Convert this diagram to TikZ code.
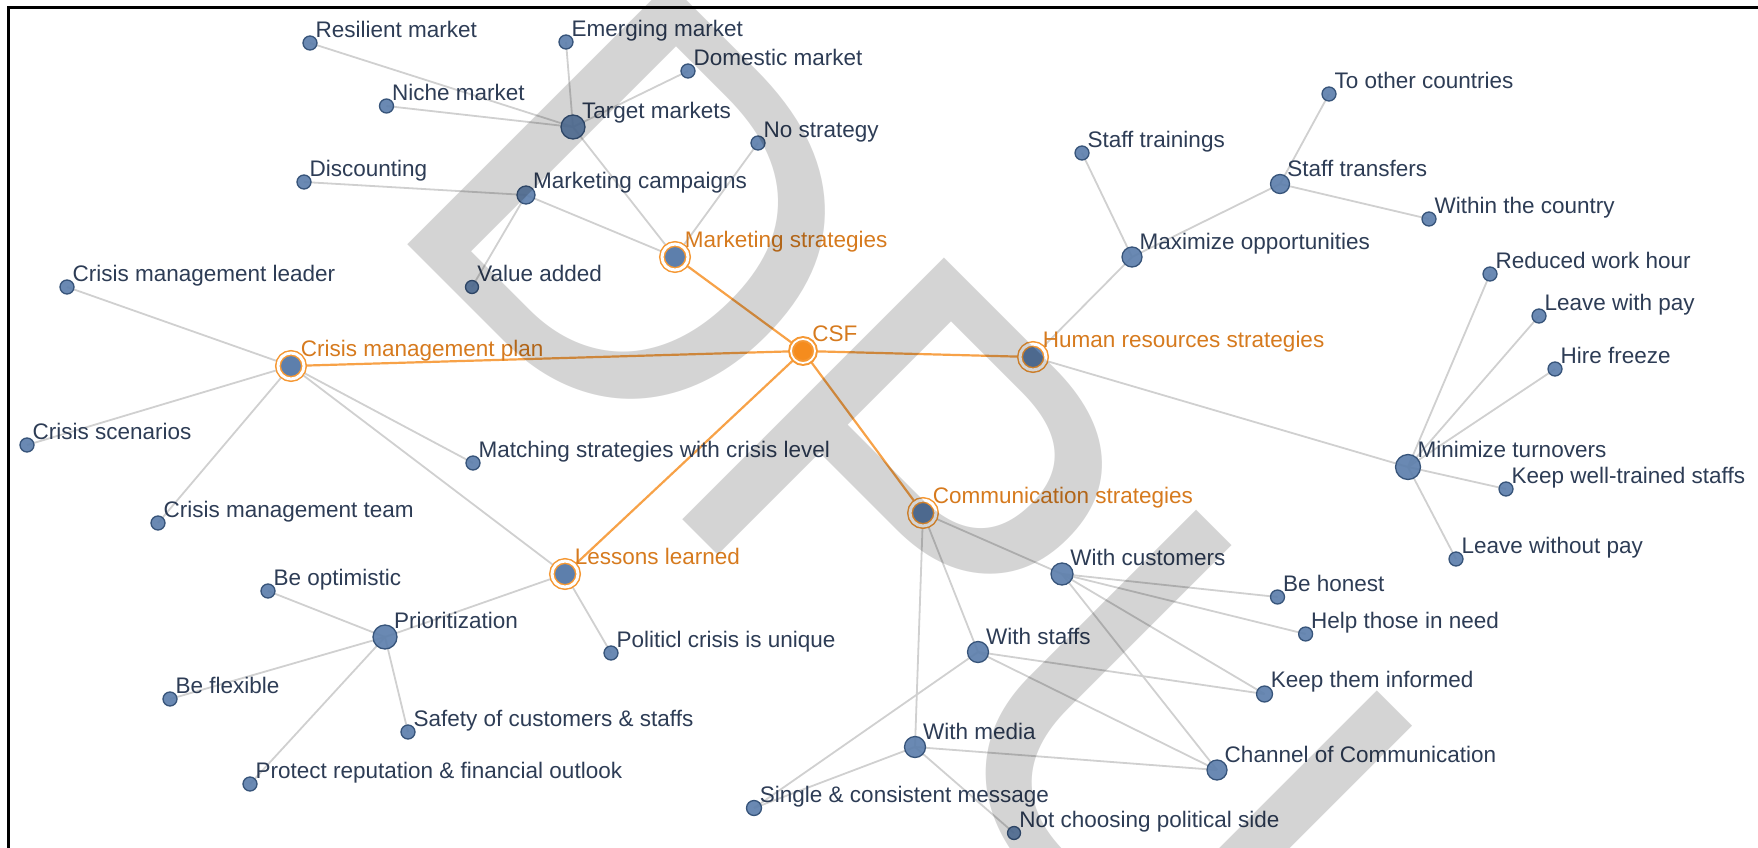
\documentclass[tikz,border=0pt]{standalone}
\usepackage{fontspec}
\setmainfont{Liberation Sans}
\usetikzlibrary{backgrounds}
\definecolor{nodeblue}{RGB}{93,127,172}
\definecolor{nodeedge}{RGB}{55,84,122}
\definecolor{ringorange}{RGB}{245,152,52}
\definecolor{csforange}{RGB}{245,140,30}
\definecolor{edgegrey}{RGB}{208,208,208}
\definecolor{orangeedge}{RGB}{247,162,72}
\definecolor{labelblue}{RGB}{45,60,85}
\definecolor{labelorange}{RGB}{214,122,30}
\newcommand{\lblfont}{\fontsize{22.5}{27}\selectfont}

\begin{document}
\begin{tikzpicture}[x=1pt, y=-1pt,
  leaf/.style={circle, inner sep=0pt, minimum size=#1, fill=nodeblue, fill opacity=0.92,
    draw=nodeedge, line width=1.3pt, label distance=2.5pt},
  leaf/.default=14pt,
  strat/.style={circle, inner sep=0pt, minimum size=26pt, fill=nodeblue, draw=ringorange,
    double=white, double distance=3pt, line width=1.5pt, label distance=2pt},
  csfnode/.style={circle, inner sep=0pt, minimum size=24pt, fill=csforange, draw=ringorange,
    double=white, double distance=1.8pt, line width=2pt, label distance=2pt},
  lbl/.style={anchor=base west, inner sep=0pt, opacity=1, text opacity=1, text=labelblue, font=\lblfont},
  olbl/.style={lbl, text=labelorange},
  edge/.style={draw=edgegrey, line width=1.8pt},
  oedge/.style={draw=orangeedge, line width=2.2pt}]
\useasboundingbox (0,0) rectangle (1758,848);
\draw[line width=2.4pt] (8.5,848) -- (8.5,7.5) -- (1758,7.5);

\node[csfnode, label={[olbl]45:CSF}] (csf) at (803,351) {};
\node[strat, label={[olbl]45:Marketing strategies}] (ms) at (675,257) {};
\node[strat, label={[olbl]45:Crisis management plan}] (cmp) at (291,366) {};
\node[strat, label={[olbl]45:Human resources strategies}] (hr) at (1033,357) {};
\node[strat, label={[olbl]45:Communication strategies}] (cs) at (923,513) {};
\node[strat, label={[olbl]45:Lessons learned}] (ll) at (565,574) {};

\node[leaf=24pt, label={[lbl]45:Target markets}] (tm) at (573,127) {};
\node[leaf, label={[lbl]45:Resilient market}] (rm) at (310,43) {};
\node[leaf, label={[lbl]45:Emerging market}] (em) at (566,42) {};
\node[leaf, label={[lbl]45:Domestic market}] (dm) at (688,71) {};
\node[leaf, label={[lbl]45:Niche market}] (nm) at (386.5,106) {};
\node[leaf, label={[lbl]45:No strategy}] (ns) at (758,143) {};
\node[leaf=18pt, label={[lbl]45:Marketing campaigns}] (mc) at (526,195) {};
\node[leaf, label={[lbl]45:Discounting}] (dc) at (304,182) {};
\node[leaf=13pt, label={[lbl]45:Value added}] (va) at (472,287) {};

\node[leaf, label={[lbl]45:Crisis management leader}] (cml) at (67,287) {};
\node[leaf, label={[lbl]45:Crisis scenarios}] (csc) at (27,445) {};
\node[leaf, label={[lbl]45:Crisis management team}] (cmt) at (158,523) {};
\node[leaf, label={[lbl]45:Matching strategies with crisis level}] (msc) at (473,463) {};

\node[leaf=24pt, label={[lbl]45:Prioritization}] (pr) at (385,637) {};
\node[leaf, label={[lbl]45:Be optimistic}] (bo) at (268,591) {};
\node[leaf, label={[lbl]45:Be flexible}] (bf) at (170,699) {};
\node[leaf, label={[lbl]45:Safety of customers \& staffs}] (sf) at (408,732) {};
\node[leaf, label={[lbl]45:Protect reputation \& financial outlook}] (prf) at (250,784) {};
\node[leaf, label={[lbl]45:Politicl crisis is unique}] (pc) at (611,653) {};

\node[leaf=20pt, label={[lbl]45:Maximize opportunities}] (mo) at (1132,257) {};
\node[leaf, label={[lbl]45:Staff trainings}] (st) at (1082,153) {};
\node[leaf=19pt, label={[lbl]45:Staff transfers}] (stf) at (1280,184) {};
\node[leaf, label={[lbl]45:To other countries}] (toc) at (1329,94) {};
\node[leaf, label={[lbl]45:Within the country}] (wtc) at (1429,219) {};
\node[leaf=25pt, label={[lbl]45:Minimize turnovers}] (mt) at (1408,467) {};
\node[leaf, label={[lbl]45:Reduced work hour}] (rwh) at (1490,274) {};
\node[leaf, label={[lbl]45:Leave with pay}] (lwp) at (1539,316) {};
\node[leaf, label={[lbl]45:Hire freeze}] (hf) at (1555,369) {};
\node[leaf, label={[lbl]45:Keep well-trained staffs}] (kwt) at (1506,489) {};
\node[leaf, label={[lbl]45:Leave without pay}] (lwo) at (1456,559) {};

\node[leaf=22pt, label={[lbl]45:With customers}] (wc) at (1062,574) {};
\node[leaf=21pt, label={[lbl]45:With staffs}] (ws) at (978,652) {};
\node[leaf=21pt, label={[lbl]45:With media}] (wm) at (915,747) {};
\node[leaf, label={[lbl]45:Be honest}] (bh) at (1277.5,597) {};
\node[leaf, label={[lbl]45:Help those in need}] (hn) at (1305.6,634) {};
\node[leaf=16pt, label={[lbl]45:Keep them informed}] (kti) at (1264.5,694) {};
\node[leaf=20pt, label={[lbl]45:Channel of Communication}] (coc) at (1217,770) {};
\node[leaf=15pt, label={[lbl]45:Single \& consistent message}] (scm) at (754,808) {};
\node[leaf=13pt, label={[lbl]45:Not choosing political side}] (ncp) at (1014,833) {};

\begin{scope}[on background layer]
\foreach \a/\b in {tm/rm, tm/em, tm/dm, tm/nm, tm/ms, mc/dc, mc/va, mc/ms, ns/ms,
  cmp/cml, cmp/csc, cmp/cmt, cmp/msc, cmp/ll, ll/pr, ll/pc, pr/bo, pr/bf, pr/sf, pr/prf,
  hr/mo, hr/mt, mo/st, mo/stf, stf/toc, stf/wtc, mt/rwh, mt/lwp, mt/hf, mt/kwt, mt/lwo,
  cs/wc, cs/ws, cs/wm, wc/bh, wc/hn, wc/kti, wc/coc, ws/kti, ws/coc, ws/scm,
  wm/scm, wm/ncp, wm/coc}
  \draw[edge] (\a.center) -- (\b.center);
\foreach \b in {ms, cmp, hr, cs, ll}
  \draw[oedge] (csf.center) -- (\b.center);
\end{scope}

\node[rotate=-45, anchor=base west, inner sep=0pt, text=black, text opacity=0.17,
  font=\fontsize{538}{538}\selectfont] (stamp) at (376.7,213.7) {DPU};
\end{tikzpicture}
\end{document}
